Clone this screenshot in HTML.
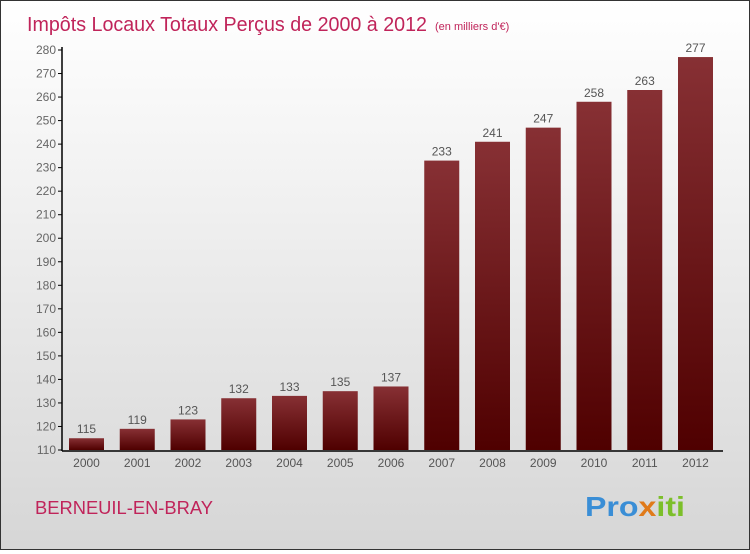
<!DOCTYPE html>
<html><head><meta charset="utf-8"><style>
body{margin:0;width:750px;height:550px;overflow:hidden;font-family:"Liberation Sans",sans-serif}
#c{position:absolute;left:0;top:0;width:748px;height:548px;border:1px solid #333;background:linear-gradient(#fff,#f3f3f3 30%,#d6d6d6)}
</style></head><body>
<div id="c">
<svg width="748" height="548">
<defs><linearGradient id="bg" x1="0" y1="0" x2="0" y2="1"><stop offset="0" stop-color="#873034"/><stop offset="1" stop-color="#4f0000"/></linearGradient></defs>
<text x="26" y="30" font-size="20" fill="#c0245a" textLength="400" lengthAdjust="spacingAndGlyphs">Impôts Locaux Totaux Perçus de 2000 à 2012</text>
<text x="434" y="29" font-size="11" fill="#c0245a">(en milliers d'€)</text>
<g id="plot"></g>
<text x="34" y="513" font-size="18" fill="#c0245a" textLength="178" lengthAdjust="spacingAndGlyphs">BERNEUIL-EN-BRAY</text>
<text x="584" y="515" font-size="28" font-weight="bold" textLength="100" lengthAdjust="spacingAndGlyphs"><tspan fill="#3a8ed6">Pro</tspan><tspan fill="#e07a1a">x</tspan><tspan fill="#7cbf2a">iti</tspan></text>
</svg></div>
<script>
const years=["2000","2001","2002","2003","2004","2005","2006","2007","2008","2009","2010","2011","2012"];
const values=[115,119,123,132,133,135,137,233,241,247,258,263,277];
const yTicks=[110,120,130,140,150,160,170,180,190,200,210,220,230,240,250,260,270,280];
const NS="http://www.w3.org/2000/svg";
const g=document.getElementById('plot');
const y=v=>449-(v-110)*400/170;
const xc=i=>85.5+i*50.75;
function mk(t,a){const e=document.createElementNS(NS,t);for(const k in a)e.setAttribute(k,a[k]);g.appendChild(e);return e;}
yTicks.forEach(t=>{
 const l=mk('line',{x1:57,x2:61,y1:y(t),y2:y(t),stroke:'#000'});
 
 
 const tx=mk('text',{x:55,y:y(t)+4,'font-size':12,fill:'#666','text-anchor':'end'});tx.textContent=t;
 
 
});
values.forEach((v,i)=>{
 const r=mk('rect',{x:xc(i)-17.5,y:y(v),width:35,height:449-y(v),fill:'url(#bg)'});
 
 
 const t=mk('text',{x:xc(i),y:y(v)-5,'font-size':12,fill:'#555','text-anchor':'middle'});t.textContent=v;
 
 
 const xl=mk('text',{x:xc(i),y:466,'font-size':12,fill:'#555','text-anchor':'middle'});xl.textContent=years[i];
 
 
});
const ya=mk('line',{x1:61,x2:61,y1:46,y2:450,stroke:'#000','stroke-width':1.5});


const xa=mk('line',{x1:61,x2:722,y1:450,y2:450,stroke:'#000','stroke-width':1.5});


</script>
</body></html>
